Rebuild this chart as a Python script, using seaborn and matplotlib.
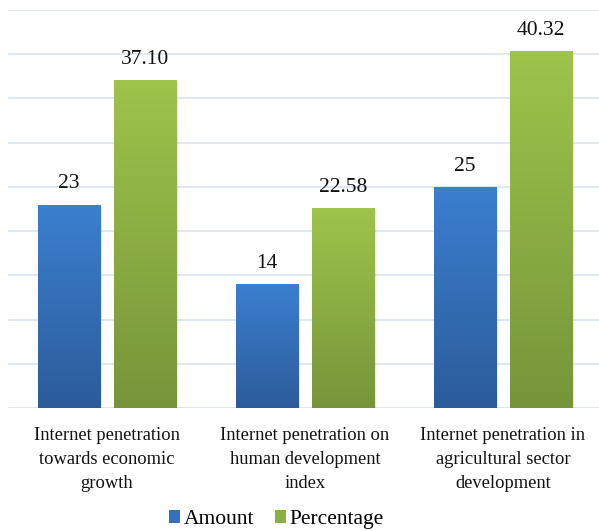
import numpy as np
import pandas as pd
import matplotlib
matplotlib.use("Agg")
import matplotlib.pyplot as plt
import seaborn as sns
from matplotlib.colors import LinearSegmentedColormap
from matplotlib.patches import Patch

categories = ["Internet penetration\ntowards economic\ngrowth",
              "Internet penetration on\nhuman development\nindex",
              "Internet penetration in\nagricultural sector\ndevelopment"]
series_names = ["Amount", "Percentage"]
amount = [23, 14, 25]
percentage = [37.10, 22.58, 40.32]
amount_labels = ["23", "14", "25"]
percentage_labels = ["37.10", "22.58", "40.32"]

df = pd.DataFrame({
    "category": categories * 2,
    "series": [series_names[0]] * 3 + [series_names[1]] * 3,
    "value": amount + percentage,
})

FAM = "Liberation Serif"
plt.rcParams['font.family'] = FAM

fig = plt.figure(figsize=(5.99, 5.31), dpi=100)
ax = fig.add_axes([8/599, (531-408)/531, 594/599, 398/531])

top_cols = {"Amount": "#3B7FD0", "Percentage": "#9EC44B"}
bot_cols = {"Amount": "#2C5C9A", "Percentage": "#76953A"}
mid_cols = {"Amount": "#3570BA", "Percentage": "#8BAF43"}

sns.barplot(data=df, x="category", y="value", hue="series", order=categories,
            hue_order=series_names, palette=[mid_cols[s] for s in series_names],
            width=0.77, gap=0.185, ax=ax, legend=False, saturation=1, zorder=3)

ax.set_ylim(0, 45)
ax.set_xlim(-0.5, 2.5)
ax.set_yticks(np.arange(0, 46, 5))
ax.yaxis.grid(True, color="#D6E0F0", linewidth=1.1, zorder=0)
ax.xaxis.grid(False)
ax.set_axisbelow(True)
for s in ax.spines.values():
    s.set_visible(False)
ax.tick_params(axis="y", left=False, labelleft=False)
ax.tick_params(axis="x", bottom=False, pad=10)
ax.set_xticks(range(len(categories)))
ax.set_xticklabels(categories, family=FAM, fontsize=13.3, linespacing=1.55, color="#111111")
ax.set_xlabel("")
ax.set_ylabel("")

for i, cont in enumerate(ax.containers):
    s = series_names[i]
    cmap = LinearSegmentedColormap.from_list(s, [bot_cols[s], top_cols[s]])
    grad = np.linspace(0, 1, 256).reshape(-1, 1)
    for bar in cont:
        x, w, h = bar.get_x(), bar.get_width(), bar.get_height()
        ax.add_patch(plt.Rectangle((x + 0.006, 0), w + 0.004, h - 0.15,
                                   facecolor="#000000", alpha=0.08, zorder=2.5, linewidth=0))
        im = ax.imshow(grad, extent=[x, x + w, 0, h], origin="lower",
                       aspect="auto", cmap=cmap, zorder=3.5)
        im.set_clip_path(bar)
    labels = amount_labels if i == 0 else percentage_labels
    ax.bar_label(cont, labels=labels, padding=8, fontsize=15.5, color="#111111", family=FAM)

ax.set_ylim(0, 45)
ax.set_xlim(-0.5, 2.5)

handles = [Patch(facecolor=mid_cols[s], label=s) for s in series_names]
fig.legend(handles=handles, loc="center", bbox_to_anchor=(276.5/599, 11.5/531), ncol=2,
           frameon=False, handlelength=0.52, handleheight=0.6,
           handletextpad=0.19, columnspacing=0.93, borderaxespad=0,
           borderpad=0, prop={"family": FAM, "size": 15.5})

fig.savefig("out.png", dpi=100)
